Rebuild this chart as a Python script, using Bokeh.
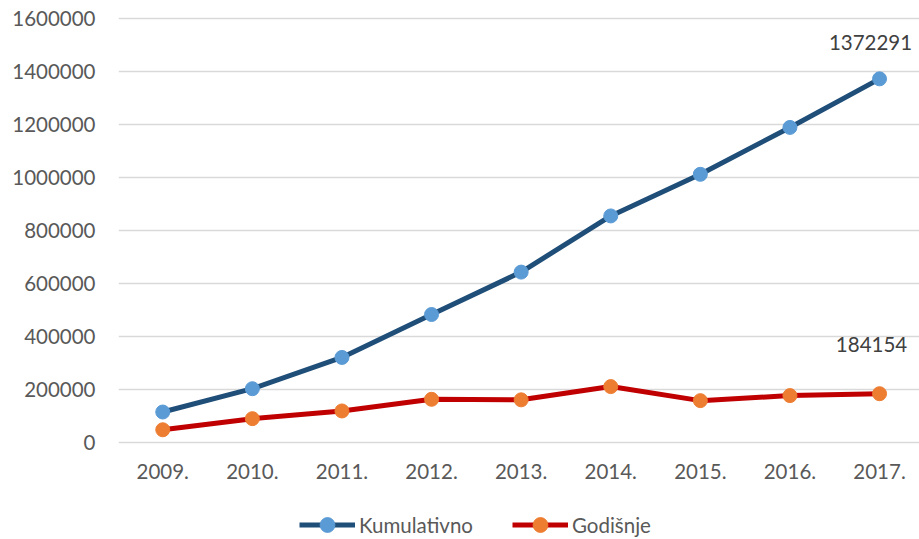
from bokeh.plotting import figure
from bokeh.models import Range1d, FixedTicker, Legend, LegendItem
from bokeh.core.properties import value
from bokeh.embed import file_html
from bokeh.resources import INLINE

years = ["2009.", "2010.", "2011.", "2012.", "2013.", "2014.", "2015.", "2016.", "2017."]
kumulativno = [115000, 203000, 321000, 483000, 643000, 855000, 1012000, 1189000, 1372291]
godisnje = [48000, 90000, 119000, 163000, 161000, 211000, 158000, 177000, 184154]
y_ticks = [0, 200000, 400000, 600000, 800000, 1000000, 1200000, 1400000, 1600000]

FONT = "Lato"
FS = "20.5px"
idx = list(range(len(years)))

p = figure(width=919, height=539, output_backend="svg", toolbar_location=None,
           x_range=Range1d(-0.494, 8.446), y_range=Range1d(-366038, 1630189),
           min_border_left=118, min_border_right=0, min_border_top=10, min_border_bottom=0)
p.outline_line_color = None
p.background_fill_color = "white"
p.border_fill_color = "white"

# axes
p.xaxis.ticker = FixedTicker(ticks=idx)
p.xaxis.major_label_overrides = {i: y for i, y in zip(idx, years)}
p.xaxis.fixed_location = 0
p.yaxis.ticker = FixedTicker(ticks=y_ticks)
p.yaxis.major_label_overrides = {t: str(t) for t in y_ticks}
for ax in (p.xaxis[0], p.yaxis[0]):
    ax.axis_line_color = None
    ax.major_tick_line_color = None
    ax.minor_tick_line_color = None
    ax.major_tick_out = 0
    ax.major_tick_in = 0
    ax.major_label_text_font = FONT
    ax.major_label_text_font_size = FS
    ax.major_label_text_color = "#595959"
p.yaxis.major_label_standoff = 23
p.xaxis.major_label_standoff = 22
p.xgrid.grid_line_color = None
p.ygrid.ticker = FixedTicker(ticks=y_ticks)
p.ygrid.grid_line_color = "#d9d9d9"
p.ygrid.grid_line_width = 1.3

l1 = p.line(idx, kumulativno, line_color="#1f4e79", line_width=5, line_join="round")
c1 = p.scatter(idx, kumulativno, size=14, fill_color="#5b9bd5", line_color="#5b9bd5")
l2 = p.line(idx, godisnje, line_color="#c00000", line_width=5, line_join="round")
c2 = p.scatter(idx, godisnje, size=14, fill_color="#ed7d31", line_color="#ed7d31")

p.text(x=[idx[-1]], y=[kumulativno[-1]], text=[str(kumulativno[-1])],
       x_offset=-9, y_offset=-36, text_align="center", text_baseline="middle",
       text_font=value(FONT), text_font_size=FS, text_color="#404040")
p.text(x=[idx[-1]], y=[godisnje[-1]], text=[str(godisnje[-1])],
       x_offset=-8, y_offset=-49, text_align="center", text_baseline="middle",
       text_font=value(FONT), text_font_size=FS, text_color="#404040")

legend = Legend(items=[LegendItem(label="Kumulativno", renderers=[l1, c1]),
                       LegendItem(label="Godišnje", renderers=[l2, c2])],
                orientation="horizontal", location=(181, -4),
                glyph_width=56, glyph_height=37, label_standoff=4, spacing=39,
                padding=0, margin=0, border_line_color=None, background_fill_alpha=0,
                label_text_font=FONT, label_text_font_size=FS, label_text_color="#595959")
p.add_layout(legend, "center")

open("out.html", "w").write(file_html(p, INLINE))
